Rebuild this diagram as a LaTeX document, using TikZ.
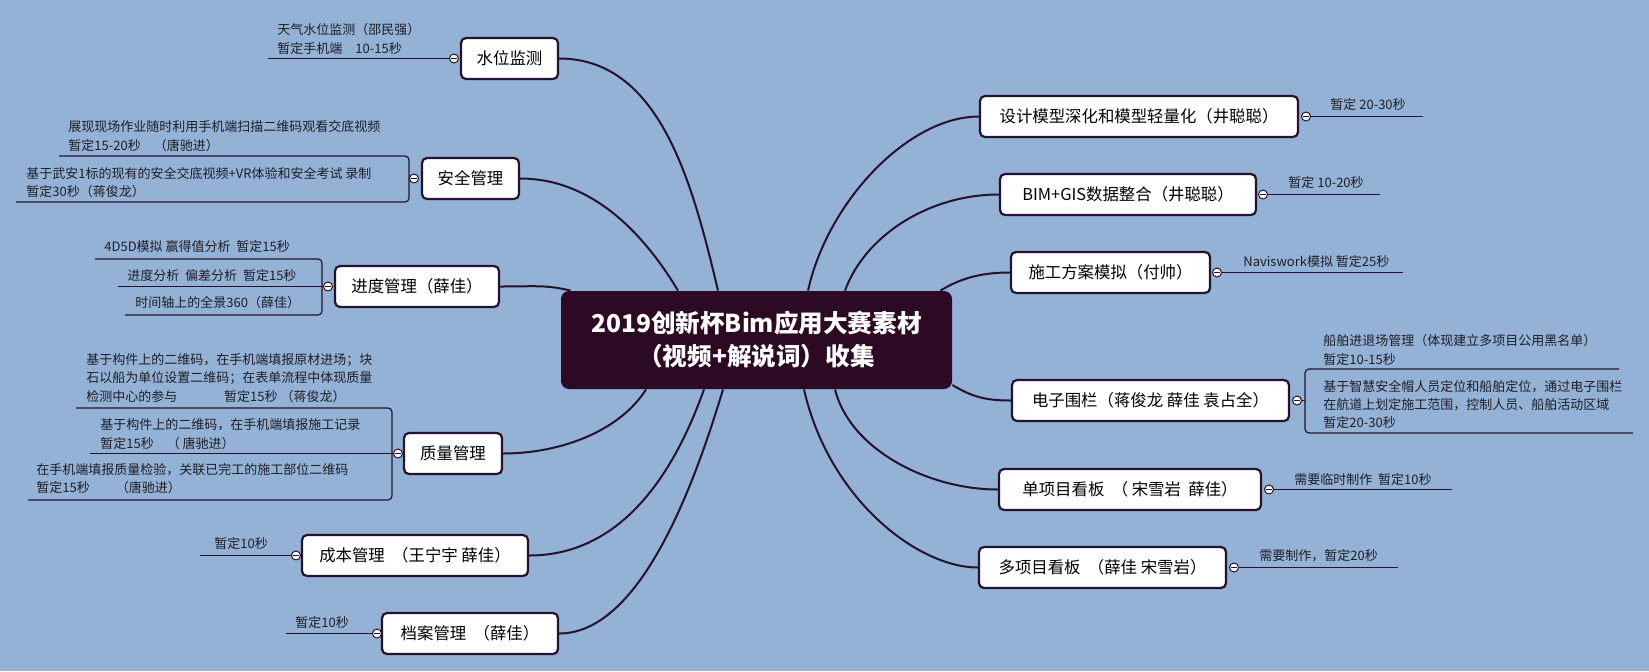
\documentclass[tikz,border=0pt]{standalone}
\usepackage{fontspec}
\setmainfont{Noto Sans CJK SC}
\usepackage{tikz}
\usetikzlibrary{calc}
\definecolor{mapbg}{RGB}{148,178,214}
\definecolor{plum}{RGB}{44,10,36}
\definecolor{ink}{RGB}{38,18,46}
\definecolor{notegray}{RGB}{30,30,38}
\tikzset{
    topic/.style={draw=ink,line width=1.1pt,fill=white,rounded corners=2.5pt,minimum height=20.5pt,inner xsep=2pt,font=\fontsize{8.2}{10}\selectfont},
    hub/.style={fill=plum,rounded corners=4pt,minimum width=195.5pt,minimum height=49pt,text=white,align=center,font=\fontsize{12.3}{16.5}\selectfont\bfseries},
    note/.style={anchor=west,align=left,inner sep=0pt,text=notegray,font=\fontsize{6.5}{9.2}\selectfont},
    knob/.style={circle,draw=ink,fill=white,line width=0.5pt,minimum size=4.5pt,inner sep=0pt,
        path picture={\draw[ink,line width=0.4pt] ([xshift=-1.3pt]path picture bounding box.center) -- ([xshift=1.3pt]path picture bounding box.center);}},
    link/.style={draw=ink,line width=1pt},
    leaf/.style={draw=ink,line width=0.6pt,rounded corners=2pt}
}
\newcommand{\topic}[5]{
    \node[topic,minimum width=#4*0.5pt] (#1) at (#2,#3) {#5};
}

\begin{document}
\begin{tikzpicture}[x=0.5pt,y=-0.5pt]
    \fill[mapbg] (0,0) rectangle (1649,671);
    \useasboundingbox (0,0) rectangle (1649,671);
    \node[hub] (hub) at (756.5,340) {2019创新杯Bim应用大赛素材\\（视频+解说词）收集};

    \topic{wlm}{509.5}{58.5}{97}{水位监测}
    \topic{aq}{470.5}{178.5}{97}{安全管理}
    \topic{jd}{417}{286.5}{164}{进度管理（薛佳）}
    \topic{zl}{453}{453.5}{98}{质量管理}
    \topic{cb}{415}{555.5}{226}{成本管理\ \ （王宁宇 薛佳）}
    \topic{da}{470}{633.5}{176}{档案管理\ \ （薛佳）}
    \topic{sj}{1139}{116.5}{318}{设计模型深化和模型轻量化（井聪聪）}
    \topic{gis}{1128}{194.5}{256}{BIM+GIS数据整合（井聪聪）}
    \topic{sg}{1110.5}{272.5}{199}{施工方案模拟（付帅）}
    \topic{dz}{1150.5}{400.5}{277}{电子围栏（蒋俊龙 薛佳 袁占全）}
    \topic{dx}{1130}{489.5}{262}{单项目看板\ \ （ 宋雪岩\ \ 薛佳）}
    \topic{dxm}{1102.5}{567.5}{247}{多项目看板\ \ （薛佳 宋雪岩）}

    \draw[link] (wlm.east) .. controls +(100,0) and +(-26,-110) .. ($(hub.north)+(-38.5,0)$);
    \draw[link] (aq.east) .. controls +(70,0) and +(-36,-60) .. ($(hub.north)+(-78.5,0)$);
    \draw[link] (jd.east) .. controls +(35,0) and +(-25,-6) .. ($(hub.north west)+(10,0)$);
    \draw[link] (zl.east) .. controls +(60,0) and +(-25,40) .. ($(hub.south)+(-110.5,0)$);
    \draw[link] (cb.east) .. controls +(100,0) and +(-25,70) .. ($(hub.south)+(-52.5,0)$);
    \draw[link] (da.east) .. controls +(80,0) and +(-30,100) .. ($(hub.south)+(-33.5,0)$);
    \draw[link] ($(hub.north)+(51.5,0)$) .. controls +(20,-90) and +(-70,0) .. (sj.west);
    \draw[link] ($(hub.north)+(88.5,0)$) .. controls +(20,-55) and +(-70,0) .. (gis.west);
    \draw[link] ($(hub.north east)+(-12,0)$) .. controls +(20,-12) and +(-30,0) .. (sg.west);
    \draw[link] ($(hub.east)+(0,45)$) .. controls +(20,12) and +(-25,0) .. (dz.west);
    \draw[link] ($(hub.south)+(78.5,0)$) .. controls +(15,60) and +(-70,0) .. (dx.west);
    \draw[link] ($(hub.south)+(47.5,0)$) .. controls +(25,110) and +(-60,0) .. (dxm.west);

    \node[knob] (wlmk) at (454,58.5) {};
    \node[note] (wlmn) at (277,39) {天气水位监测（邵民强）\\暂定手机端\quad 10-15秒};
    \coordinate (wlme) at (268,58.5);
    \draw[leaf] (wlmk) -- (wlme);

    \node[knob] (aqk) at (414,178.5) {};
    \node[note] (aqn1) at (68,136) {展现现场作业随时利用手机端扫描二维码观看交底视频\\暂定15-20秒\quad（唐驰进）};
    \node[note] (aqn2) at (26,182.5) {基于武安1标的现有的安全交底视频+VR体验和安全考试 录制\\暂定30秒（蒋俊龙）};
    \coordinate (aq1) at (59,156);
    \coordinate (aq2) at (16,202);
    \coordinate (aqb) at (409,202);
    \draw[leaf] (aq1) -| (aqb) -- (aq2);
    \draw[leaf] (aqk) -- (aqk -| aqb);

    \node[knob] (jdk) at (328,286.5) {};
    \node[note] (jdn1) at (104,247) {4D5D模拟 赢得值分析\ \ 暂定15秒};
    \node[note] (jdn2) at (127,276) {进度分析\ \ 偏差分析\ \ 暂定15秒};
    \node[note] (jdn3) at (135,303) {时间轴上的全景360（薛佳）};
    \coordinate (jd1) at (95,259);
    \coordinate (jd2) at (118,286.5);
    \coordinate (jd3) at (125,315);
    \coordinate (jdb) at (322,315);
    \draw[leaf] (jd1) -| (jdb) -- (jd3);
    \draw[leaf] (jdk) -- (jd2);

    \node[knob] (zlk) at (398,453.5) {};
    \node[note] (zln1) at (86,378) {基于构件上的二维码，在手机端填报原材进场；块\\石以船为单位设置二维码；在表单流程中体现质量\\检测中心的参与\hspace{3.6em}暂定15秒 （蒋俊龙）};
    \node[note] (zln2) at (100,434) {基于构件上的二维码，在手机端填报施工记录\\暂定15秒\quad（ 唐驰进）};
    \node[note] (zln3) at (36,478.5) {在手机端填报质量检验，关联已完工的施工部位二维码\\暂定15秒\qquad（唐驰进）};
    \coordinate (zl1) at (76,408);
    \coordinate (zl2) at (90,453.5);
    \coordinate (zl3) at (28,500);
    \coordinate (zlb) at (392,500);
    \draw[leaf] (zl1) -| (zlb) -- (zl3);
    \draw[leaf] (zlk) -- (zl2);

    \node[knob] (cbk) at (296,555.5) {};
    \node[note] (cbn) at (214,544) {暂定10秒};
    \coordinate (cbe) at (200,555.5);
    \draw[leaf] (cbk) -- (cbe);

    \node[knob] (dak) at (377,633.5) {};
    \node[note] (dan) at (295,623) {暂定10秒};
    \coordinate (dae) at (286,633.5);
    \draw[leaf] (dak) -- (dae);

    \node[knob] (sjk) at (1306,116.5) {};
    \node[note] (sjn) at (1330,105) {暂定 20-30秒};
    \coordinate (sje) at (1423,116.5);
    \draw[leaf] (sjk) -- (sje);

    \node[knob] (gisk) at (1263,194.5) {};
    \node[note] (gisn) at (1288,183) {暂定 10-20秒};
    \coordinate (gise) at (1380,194.5);
    \draw[leaf] (gisk) -- (gise);

    \node[knob] (sgk) at (1217,272.5) {};
    \node[note] (sgn) at (1243,262) {Naviswork模拟 暂定25秒};
    \coordinate (sge) at (1403,272.5);
    \draw[leaf] (sgk) -- (sge);

    \node[knob] (dzk) at (1297,400.5) {};
    \node[note] (dzn1) at (1323,350) {船舶进退场管理（体现建立多项目公用黑名单）\\暂定10-15秒};
    \node[note] (dzn2) at (1323,404.5) {基于智慧安全帽人员定位和船舶定位，通过电子围栏\\在航道上划定施工范围，控制人员、船舶活动区域\\暂定20-30秒};
    \coordinate (dz1) at (1619,369);
    \coordinate (dz2) at (1633,433);
    \coordinate (dzb) at (1305,433);
    \draw[leaf] (dz1) -| (dzb) -- (dz2);
    \draw[leaf] (dzk) -- (dzk -| dzb);

    \node[knob] (dxk) at (1269,489.5) {};
    \node[note] (dxn) at (1294,480) {需要临时制作\ \ 暂定10秒};
    \coordinate (dxe) at (1452,489.5);
    \draw[leaf] (dxk) -- (dxe);

    \node[knob] (dxmk) at (1234,567.5) {};
    \node[note] (dxmn) at (1259,556) {需要制作，暂定20秒};
    \coordinate (dxme) at (1398,567.5);
    \draw[leaf] (dxmk) -- (dxme);
\end{tikzpicture}
\end{document}
